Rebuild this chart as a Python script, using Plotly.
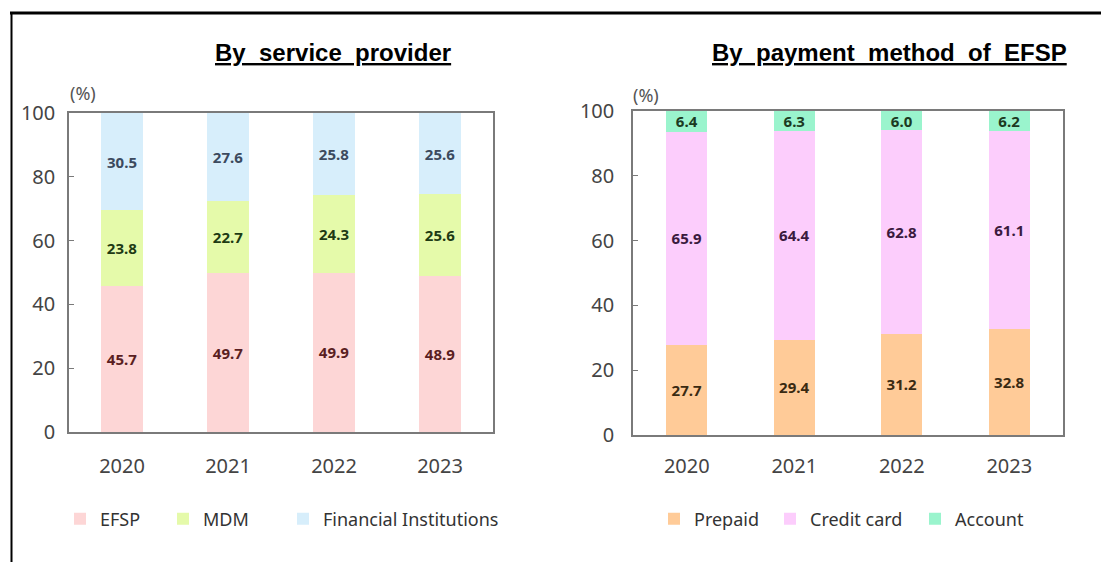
import plotly.graph_objects as go

W, H = 1101, 562

years = ["2020", "2021", "2022", "2023"]

# Shares by service provider (%)
efsp = [45.7, 49.7, 49.9, 48.9]
mdm = [23.8, 22.7, 24.3, 25.6]
fin_inst = [30.5, 27.6, 25.8, 25.6]

# Shares of EFSP payments by method (%)
prepaid = [27.7, 29.4, 31.2, 32.8]
credit_card = [65.9, 64.4, 62.8, 61.1]
account = [6.4, 6.3, 6.0, 6.2]

y_ticks = [0, 20, 40, 60, 80, 100]

TICK_FONT = dict(family="Noto Sans", size=20, color="#444444")
LABEL_FONT = "Noto Sans"
TITLE_FONT = dict(family="Liberation Sans Narrow, Liberation Sans", size=24, color="#000000")


def px_x(x):
    return x / W


def px_y(y):
    return 1 - y / H


fig = go.Figure()

# name, values, fill, label colour, legend id, legend square left edge (px)
left_series = [
    ("EFSP", efsp, "#FDD6D6", "#5A1E22", "legend", 72),
    ("MDM", mdm, "#E5FAAA", "#1E3A14", "legend2", 175),
    ("Financial Institutions", fin_inst, "#D7EEFB", "#3C4A5E", "legend3", 295),
]
right_series = [
    ("Prepaid", prepaid, "#FFCB98", "#3A2A12", "legend4", 666),
    ("Credit card", credit_card, "#FCCDFC", "#3A1A3E", "legend5", 782),
    ("Account", account, "#9AF4CD", "#1C3A22", "legend6", 927),
]

legends = {}


def add_stack(series, xa, ya, width):
    for name, vals, fill, txt, leg, sq_left in series:
        fig.add_trace(go.Bar(
            x=years, y=vals, name=name, xaxis=xa, yaxis=ya,
            marker=dict(color=fill, line=dict(width=0)),
            text=[f"{v:.1f}" for v in vals], textposition="inside",
            insidetextanchor="middle", textangle=0, constraintext="none",
            textfont=dict(family=LABEL_FONT, size=15, color=txt, weight="bold"),
            legend=leg, width=width,
        ))
        legends[leg] = dict(
            orientation="h", xref="container", yref="container",
            x=px_x(sq_left - 12), y=px_y(519), xanchor="left", yanchor="middle",
            font=dict(family="Noto Sans", size=18, color="#333333"),
            bgcolor="rgba(0,0,0,0)", itemclick=False, itemdoubleclick=False,
        )


add_stack(left_series, "x", "y", 0.4)
add_stack(right_series, "x2", "y2", 0.38)

axis_common = dict(
    showline=True, linecolor="#7a7a7a", linewidth=1.5, mirror=True,
    showgrid=False, zeroline=False, automargin=False,
)

fig.update_layout(
    width=W, height=H,
    margin=dict(l=0, r=0, t=0, b=0, autoexpand=False),
    paper_bgcolor="white", plot_bgcolor="white",
    barmode="stack",
    xaxis=dict(domain=[px_x(69), px_x(493)], anchor="y",
               tickfont=TICK_FONT, ticks="", ticklabelstandoff=15, **axis_common),
    yaxis=dict(domain=[px_y(432), px_y(113)], anchor="x", range=[0, 100],
               tickvals=y_ticks, tickfont=TICK_FONT, ticks="inside",
               ticklen=5, tickcolor="#7a7a7a", ticklabelstandoff=8, **axis_common),
    xaxis2=dict(domain=[px_x(633), px_x(1063)], anchor="y2",
                tickfont=TICK_FONT, ticks="", ticklabelstandoff=12, **axis_common),
    yaxis2=dict(domain=[px_y(435), px_y(111)], anchor="x2", range=[0, 100],
                tickvals=y_ticks, tickfont=TICK_FONT, ticks="inside",
                ticklen=5, tickcolor="#7a7a7a", ticklabelstandoff=13, **axis_common),
    showlegend=True,
    **legends,
)

annotations = [
    dict(text="<b><u>By  service  provider</u></b>", x=px_x(333), y=px_y(52),
         font=TITLE_FONT),
    dict(text="<b><u>By  payment  method  of  EFSP</u></b>", x=px_x(890), y=px_y(52),
         font=TITLE_FONT),
    dict(text="(%)", x=px_x(83), y=px_y(93),
         font=dict(family="Noto Sans", size=18, color="#555555")),
    dict(text="(%)", x=px_x(646), y=px_y(95),
         font=dict(family="Noto Sans", size=18, color="#555555")),
]
for a in annotations:
    a.update(xref="paper", yref="paper", showarrow=False,
             xanchor="center", yanchor="middle")
fig.update_layout(annotations=annotations)

# Outer frame: heavy rule across the top and a rule down the left side
fig.add_shape(type="line", xref="paper", yref="paper",
              x0=px_x(10), x1=1, y0=px_y(13), y1=px_y(13),
              line=dict(color="#000000", width=3))
fig.add_shape(type="line", xref="paper", yref="paper",
              x0=px_x(11.5), x1=px_x(11.5), y0=px_y(13), y1=0,
              line=dict(color="#000000", width=2))

fig.write_html("out.html")
